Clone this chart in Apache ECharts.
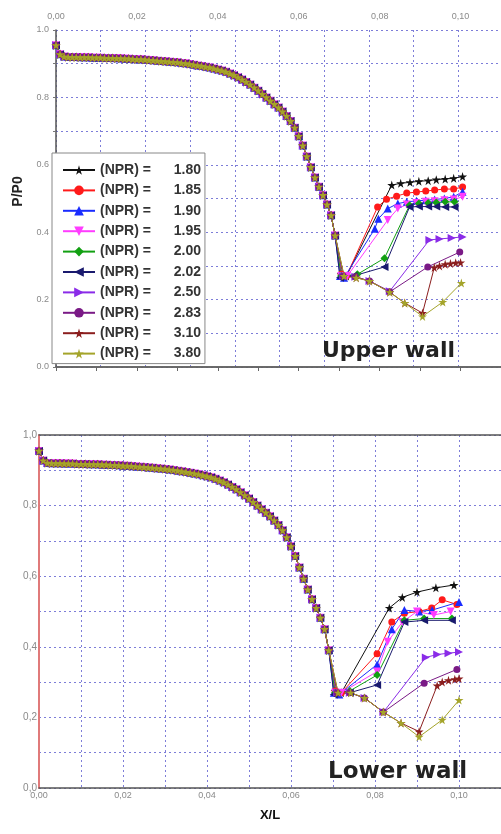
<!DOCTYPE html>
<html><head><meta charset="utf-8">
<script src="https://cdn.jsdelivr.net/npm/echarts@6/dist/echarts.min.js"></script>
<style>html,body{margin:0;padding:0;background:#fff}#c{width:501px;height:834px}</style>
</head><body><div id="c"></div><script>
// ---- data ----
const npr = ['1.80','1.85','1.90','1.95','2.00','2.02','2.50','2.83','3.10','3.80'];
const xTickLabels = ['0,00','0,02','0,04','0,06','0,08','0,10'];

// shared upstream part (identical for all NPR) : X/L and P/P0
const baseX = [0.000,0.001,0.002,0.003,0.004,0.005,0.006,0.007,0.008,0.009,
  0.010,0.011,0.012,0.013,0.014,0.015,0.016,0.017,0.018,0.019,
  0.020,0.021,0.022,0.023,0.024,0.025,0.026,0.027,0.028,0.029,
  0.030,0.031,0.032,0.033,0.034,0.035,0.036,0.037,0.038,0.039,
  0.040,0.041,0.042,0.043,0.044,0.045,0.046,0.047,0.048,0.049,
  0.050,0.051,0.052,0.053,0.054,0.055,0.056,0.057,0.058,0.059,
  0.060,0.061,0.062,0.063,0.064,0.065,0.066,0.067,0.068,0.069];
const baseP = [0.955,0.928,0.921,0.920,0.920,0.920,0.919,0.919,0.919,0.918,
  0.918,0.918,0.917,0.917,0.917,0.916,0.916,0.915,0.915,0.914,
  0.913,0.913,0.912,0.911,0.910,0.909,0.908,0.907,0.906,0.905,
  0.904,0.902,0.901,0.899,0.897,0.895,0.893,0.891,0.889,0.886,
  0.883,0.880,0.876,0.871,0.866,0.860,0.853,0.846,0.838,0.829,
  0.820,0.810,0.800,0.790,0.780,0.770,0.758,0.745,0.730,0.710,
  0.685,0.657,0.625,0.593,0.562,0.535,0.510,0.482,0.450,0.390];

// upper wall, shock region [X/L, P/P0]
const upper_1_80 = [[0.0705,0.275],[0.0718,0.27],[0.0830,0.540],[0.0852,0.545],[0.0875,0.548],[0.0897,0.551],[0.0920,0.553],[0.0940,0.556],[0.0962,0.558],[0.0983,0.560],[0.1005,0.565]];
const upper_1_85 = [[0.0705,0.275],[0.0718,0.27],[0.0795,0.475],[0.0817,0.498],[0.0842,0.507],[0.0867,0.516],[0.0891,0.519],[0.0914,0.522],[0.0936,0.525],[0.0960,0.528],[0.0983,0.528],[0.1005,0.534]];
const upper_1_90 = [[0.0702,0.27],[0.0712,0.265],[0.0788,0.41],[0.0797,0.44],[0.0820,0.47],[0.0845,0.485],[0.0867,0.49],[0.0891,0.493],[0.0914,0.495],[0.0936,0.497],[0.0960,0.50],[0.0983,0.505],[0.1005,0.52]];
const upper_1_95 = [[0.0705,0.27],[0.0720,0.27],[0.0820,0.436],[0.0845,0.47],[0.0867,0.482],[0.0891,0.487],[0.0914,0.49],[0.0936,0.492],[0.0960,0.495],[0.0983,0.497],[0.1005,0.505]];
const upper_2_00 = [[0.0705,0.27],[0.0745,0.275],[0.0812,0.323],[0.0874,0.48],[0.0897,0.485],[0.0920,0.487],[0.0940,0.488],[0.0962,0.49],[0.0985,0.49]];
const upper_2_02 = [[0.0702,0.265],[0.0735,0.27],[0.0812,0.297],[0.0874,0.475],[0.0897,0.476],[0.0920,0.476],[0.0940,0.476],[0.0962,0.475],[0.0985,0.475]];
const upper_2_50 = [[0.0710,0.27],[0.0740,0.268],[0.0775,0.255],[0.0825,0.225],[0.0923,0.377],[0.0948,0.38],[0.0978,0.383],[0.1005,0.386]];
const upper_2_83 = [[0.0710,0.27],[0.0740,0.268],[0.0775,0.255],[0.0825,0.223],[0.0919,0.297],[0.0998,0.341]];
const upper_3_10 = [[0.0712,0.27],[0.0742,0.265],[0.0775,0.255],[0.0825,0.222],[0.0862,0.19],[0.0906,0.16],[0.0935,0.295],[0.0948,0.30],[0.0962,0.305],[0.0975,0.307],[0.0988,0.309],[0.1000,0.31]];
const upper_3_80 = [[0.0712,0.27],[0.0742,0.265],[0.0775,0.255],[0.0825,0.222],[0.0862,0.19],[0.0906,0.15],[0.0956,0.193],[0.1002,0.249]];

// lower wall, shock region [X/L, P/P0]
const lower_1_80 = [[0.0705,0.275],[0.0720,0.27],[0.0834,0.51],[0.0865,0.54],[0.0900,0.555],[0.0945,0.567],[0.0988,0.575]];
const lower_1_85 = [[0.0705,0.275],[0.0720,0.27],[0.0805,0.38],[0.0840,0.47],[0.0870,0.495],[0.0905,0.50],[0.0935,0.51],[0.0960,0.533],[0.0995,0.52]];
const lower_1_90 = [[0.0702,0.27],[0.0715,0.265],[0.0805,0.35],[0.0840,0.45],[0.0870,0.504],[0.0905,0.50],[0.0936,0.504],[0.1000,0.527]];
const lower_1_95 = [[0.0705,0.27],[0.0720,0.27],[0.0805,0.33],[0.0830,0.414],[0.0865,0.47],[0.0900,0.50],[0.0940,0.49],[0.0980,0.50]];
const lower_2_00 = [[0.0705,0.27],[0.0740,0.275],[0.0805,0.32],[0.0870,0.475],[0.0917,0.48],[0.0983,0.48]];
const lower_2_02 = [[0.0702,0.265],[0.0740,0.27],[0.0805,0.292],[0.0870,0.47],[0.0917,0.475],[0.0983,0.475]];
const lower_2_50 = [[0.0710,0.27],[0.0740,0.27],[0.0775,0.255],[0.0820,0.215],[0.0921,0.37],[0.0948,0.378],[0.0975,0.382],[0.1000,0.385]];
const lower_2_83 = [[0.0710,0.27],[0.0740,0.27],[0.0775,0.255],[0.0820,0.215],[0.0917,0.297],[0.0995,0.336]];
const lower_3_10 = [[0.0712,0.27],[0.0742,0.27],[0.0775,0.255],[0.0820,0.215],[0.0862,0.184],[0.0905,0.16],[0.0948,0.29],[0.0960,0.30],[0.0975,0.305],[0.0990,0.308],[0.1000,0.31]];
const lower_3_80 = [[0.0712,0.27],[0.0742,0.27],[0.0775,0.255],[0.0820,0.215],[0.0862,0.184],[0.0905,0.145],[0.0960,0.193],[0.1000,0.249]];

const upperTails = [upper_1_80,upper_1_85,upper_1_90,upper_1_95,upper_2_00,upper_2_02,upper_2_50,upper_2_83,upper_3_10,upper_3_80];
const lowerTails = [lower_1_80,lower_1_85,lower_1_90,lower_1_95,lower_2_00,lower_2_02,lower_2_50,lower_2_83,lower_3_10,lower_3_80];

// ---- styles ----
const STAR = 'path://M50,0 L61,35 L98,35 L68,57 L79,91 L50,70 L21,91 L32,57 L2,35 L39,35 Z';
const colors = ['#111111','#ff1a1a','#1a2cff','#ff3cff','#12a012','#1a1a6e','#8a2be8','#7a1a86','#8b1e1e','#a4a42a'];
const symbols = [STAR,'circle','triangle','path://M0,0 L10,0 L5,9 Z','diamond','path://M0,5 L9,0 L9,10 Z','path://M0,0 L9,5 L0,10 Z','circle',STAR,STAR];
const sizes = [9,7,8,8,8,8,8,7,9,9];

const gridLine = {show:true, lineStyle:{color:'#7d7dd8', type:[2,3], width:1}};
const comma = (v,d)=>v.toFixed(d).replace('.',',');

const base = baseX.map((x,i)=>[x, baseP[i]]);
const series = [];
npr.forEach((n,i)=>{
  const common = {type:'line', name:n, symbol:symbols[i], symbolSize:sizes[i], showSymbol:true,
    lineStyle:{color:colors[i], width:1}, itemStyle:{color:colors[i]}, emphasis:{disabled:true}};
  series.push(Object.assign({}, common, {xAxisIndex:0, yAxisIndex:0, data: base.concat(upperTails[i])}));
  series.push(Object.assign({}, common, {xAxisIndex:3, yAxisIndex:1, data: base.concat(lowerTails[i])}));
});

const chart = echarts.init(document.getElementById('c'), null, {renderer:'canvas'});
chart.setOption({
  animation:false,
  backgroundColor:'#fff',
  grid:[{left:56, right:0, top:30, height:337},{left:39, right:0, top:435, height:353}],
  xAxis:[
    {gridIndex:0, type:'value', position:'top', min:0, max:0.11, interval:0.02,
      axisLine:{lineStyle:{color:'#555', width:1.5}}, axisTick:{show:false}, splitLine:{show:false},
      axisLabel:{color:'#8a8a8a', fontSize:9, margin:9, showMaxLabel:false,
        formatter:v=>{const k=Math.round(v/0.02); return Math.abs(v-k*0.02)<1e-6 && k<xTickLabels.length ? xTickLabels[k] : '';}}},
    {gridIndex:0, type:'value', position:'bottom', min:0, max:0.11, interval:0.01,
      axisLine:{lineStyle:{color:'#666', width:1.5}}, axisTick:{length:4, lineStyle:{color:'#666'}},
      axisLabel:{show:false}, splitLine:{show:false}},
    {gridIndex:0, type:'value', position:'top', min:0, max:9.955, interval:1,
      axisLine:{show:false}, axisTick:{show:false}, axisLabel:{show:false}, splitLine:gridLine},
    {gridIndex:1, type:'value', position:'bottom', min:0, max:0.11, interval:0.01,
      axisLine:{lineStyle:{color:'#555', width:1.5}}, axisTick:{show:false}, splitLine:gridLine,
      axisLabel:{color:'#8a8a8a', fontSize:9, margin:3, showMaxLabel:false,
        formatter:v=>{const k=Math.round(v/0.02); return Math.abs(v-k*0.02)<1e-6 && k<xTickLabels.length ? xTickLabels[k] : '';}},
      name:'X/L', nameLocation:'middle', nameGap:21, nameTextStyle:{fontWeight:'bold', fontSize:13, color:'#111', fontFamily:'Liberation Sans'}},
    {gridIndex:1, type:'value', position:'top', min:0, max:0.11,
      axisLine:{lineStyle:{color:'#555', width:1.5}}, axisTick:{show:false}, axisLabel:{show:false}, splitLine:{show:false}}
  ],
  yAxis:[
    {gridIndex:0, type:'value', min:0, max:1, interval:0.1,
      axisLine:{show:true, lineStyle:{color:'#555', width:1.5}}, axisTick:{show:true, length:3, lineStyle:{color:'#777'}},
      splitLine:gridLine,
      axisLabel:{color:'#8a8a8a', fontSize:9, margin:7, formatter:v=>{const k=Math.round(v*10); return k%2===0 ? (k/10).toFixed(1) : '';}},
      name:'P/P0', nameLocation:'middle', nameGap:19, nameRotate:90,
      nameTextStyle:{fontWeight:'bold', fontSize:14, color:'#222', fontFamily:'Liberation Sans', padding:[0,0,0,14]}},
    {gridIndex:1, type:'value', min:0, max:1, interval:0.1,
      axisLine:{show:true, lineStyle:{color:'#e07a7a', width:2}}, axisTick:{show:false},
      splitLine:gridLine,
      axisLabel:{color:'#8a8a8a', fontSize:10, margin:2, formatter:v=>{const k=Math.round(v*10); return k%2===0 ? comma(k/10,1) : '';}}}
  ],
  legend:{
    data:npr, orient:'vertical', left:52, top:153, padding:[10,4,3,10],
    itemWidth:32, itemHeight:12, itemGap:6.4,
    backgroundColor:'#fff', borderColor:'#888', borderWidth:1,
    formatter:n=>'{a|(NPR) =}{b|'+n+'}',
    textStyle:{fontFamily:'Liberation Sans', fontWeight:'bold', fontSize:14, color:'#333',
      rich:{a:{fontFamily:'Liberation Sans', fontWeight:'bold', fontSize:14, color:'#333', lineHeight:14},
            b:{fontFamily:'Liberation Sans', fontWeight:'bold', fontSize:14, color:'#333', lineHeight:14, width:50, align:'right'}}}
  },
  graphic:[
    {type:'text', left:322, top:340, z:10, style:{text:'Upper wall', font:'bold 22px "DejaVu Sans"', fill:'#222'}},
    {type:'text', left:328, top:761, z:10, style:{text:'Lower wall', font:'bold 23px "DejaVu Sans"', fill:'#222'}}
  ],
  series:series
});
</script></body></html>
